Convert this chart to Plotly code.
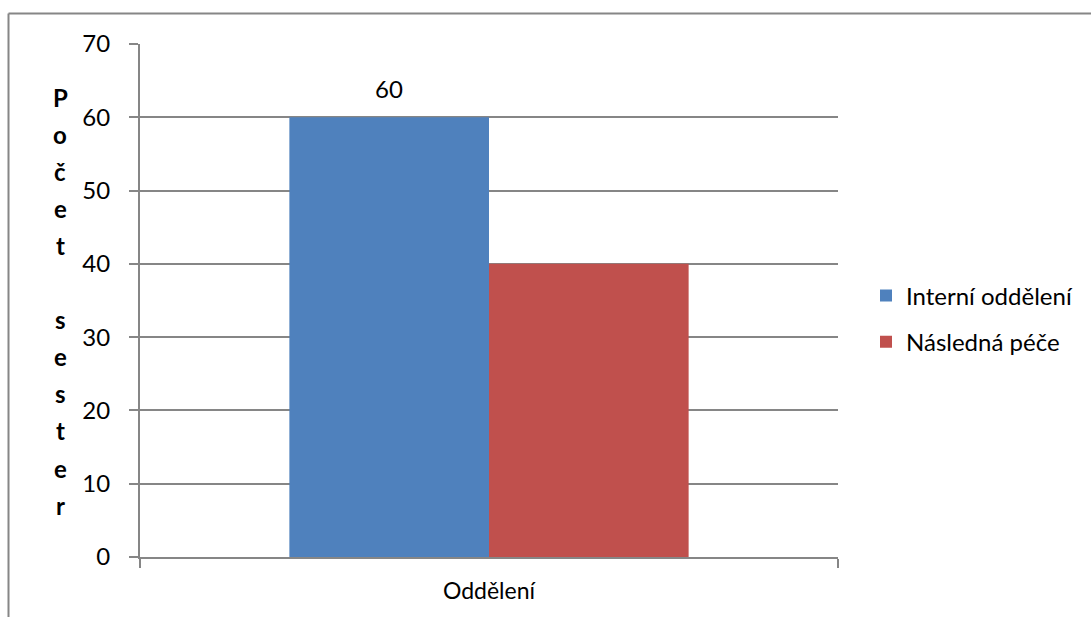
import plotly.graph_objects as go

categories = ["Oddělení"]
series_names = ["Interní oddělení", "Následná péče"]
values_interni = [60]
values_nasledna = [40]
labels_interni = ["60"]
y_ticks = [0, 10, 20, 30, 40, 50, 60, 70]
y_title = "Počet sester"

FONT = "Lato"
GRAY = "#868686"
BARGAP = 0.428

fig = go.Figure()
fig.add_trace(go.Bar(
    x=categories, y=values_interni, name=series_names[0],
    marker=dict(color="#4F81BD", line=dict(width=0)),
    legendgroup="a",
))
fig.add_trace(go.Bar(
    x=categories, y=values_nasledna, name=series_names[1],
    marker=dict(color="#C0504D", line=dict(width=0)),
    legendgroup="b",
))

L, R, T, B = 140, 1091 - 838, 44, 617 - 557
W, H = 1091 - L - R, 617 - T - B

fig.update_layout(
    width=1091, height=617,
    margin=dict(l=L, r=R, t=T, b=B),
    paper_bgcolor="white", plot_bgcolor="white",
    barmode="group", bargap=BARGAP, bargroupgap=0,
    font=dict(family=FONT, size=24, color="#000000"),
    showlegend=True,
    legend=dict(
        x=(866 - L) / W, xanchor="left",
        y=(557 - 319) / H, yanchor="middle",
        font=dict(family=FONT, size=24, color="#000000"),
        tracegroupgap=12, traceorder="grouped",
        itemwidth=30, bgcolor="rgba(0,0,0,0)",
    ),
    xaxis=dict(
        showline=True, linecolor=GRAY, linewidth=2,
        ticks="outside", tickson="boundaries", ticklen=9, tickcolor=GRAY, tickwidth=2,
        showgrid=False, ticklabelstandoff=12,
        tickfont=dict(family=FONT, size=23, color="#000000"),
    ),
    yaxis=dict(
        range=[0, 70], tickvals=y_ticks,
        showline=True, linecolor=GRAY, linewidth=2,
        ticks="outside", ticklen=9, tickcolor=GRAY, tickwidth=2,
        showgrid=True, gridcolor=GRAY, gridwidth=2, zeroline=False,
        ticklabelstandoff=14,
        tickfont=dict(family=FONT, size=24, color="#000000"),
    ),
)

# data label above the blue bar
bar_w_px = W * (1 - BARGAP) / 2
fig.add_annotation(
    x=categories[0], y=values_interni[0], xref="x", yref="y",
    text=labels_interni[0], showarrow=False,
    xshift=-bar_w_px / 2, yshift=29, yanchor="middle",
    font=dict(family=FONT, size=24, color="#000000"),
)

# vertical stacked y-axis title (one letter per line)
top_px, step_px = 97, 37.1
for i, ch in enumerate(y_title):
    if ch == " ":
        continue
    ypx = top_px + i * step_px
    fig.add_annotation(
        text=f"<b>{ch}</b>", xref="paper", yref="paper",
        x=(60 - L) / W, y=(557 - ypx) / H,
        xanchor="center", yanchor="middle", showarrow=False,
        font=dict(family=FONT, size=24, color="#000000"),
    )

# chart border (top and left, like the cropped reference)
bx0, by0 = (8.5 - L) / W, (557 - 13.5) / H
bx1, by1 = (1095 - L) / W, (557 - 620) / H
fig.add_shape(type="line", xref="paper", yref="paper", x0=bx0, y0=by0, x1=bx1, y1=by0,
              line=dict(color=GRAY, width=2))
fig.add_shape(type="line", xref="paper", yref="paper", x0=bx0, y0=by0, x1=bx0, y1=by1,
              line=dict(color=GRAY, width=2))

fig.write_html("out.html")
